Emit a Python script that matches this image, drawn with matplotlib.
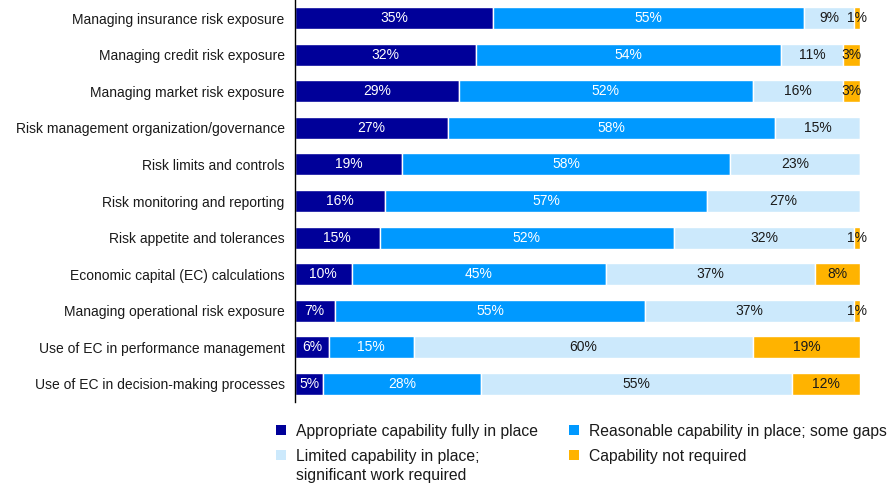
import matplotlib.pyplot as plt
from matplotlib.patches import Rectangle

plt.rcParams['font.family'] = ['Liberation Sans', 'DejaVu Sans']
plt.rcParams['font.size'] = 10

categories = [
    'Managing insurance risk exposure',
    'Managing credit risk exposure',
    'Managing market risk exposure',
    'Risk management organization/governance',
    'Risk limits and controls',
    'Risk monitoring and reporting',
    'Risk appetite and tolerances',
    'Economic capital (EC) calculations',
    'Managing operational risk exposure',
    'Use of EC in performance management',
    'Use of EC in decision-making processes',
]
fully = [35, 32, 29, 27, 19, 16, 15, 10, 7, 6, 5]
reasonable = [55, 54, 52, 58, 58, 57, 52, 45, 55, 15, 28]
limited = [9, 11, 16, 15, 23, 27, 32, 37, 37, 60, 55]
not_required = [1, 3, 3, 0, 0, 0, 1, 8, 1, 19, 12]

series = [fully, reasonable, limited, not_required]
names = ['Appropriate capability fully in place',
         'Reasonable capability in place; some gaps',
         'Limited capability in place;\nsignificant work required',
         'Capability not required']
colors = ['#000099', '#0099ff', '#cce9fc', '#ffb300']
text_colors = ['white', 'white', '#1a1a1a', '#1a1a1a']

W, H = 892, 484
fig = plt.figure(figsize=(W / 100, H / 100), dpi=100)
ax = fig.add_axes([295 / W, 82 / H, 565 / W, 402 / H])

y = list(range(len(categories)))
left = [0] * len(categories)
for vals, col, tc in zip(series, colors, text_colors):
    ax.barh(y, vals, left=left, height=0.6, color=col, edgecolor='white', linewidth=1)
    for i, v in enumerate(vals):
        if v > 0:
            ax.text(left[i] + v / 2, i, f'{v}%', ha='center', va='center',
                    color=tc, fontsize=10)
    left = [a + b for a, b in zip(left, vals)]

ax.set_ylim(len(categories) - 0.5, -0.5)
ax.set_xlim(0, 100)
ax.set_yticks(y)
ax.set_yticklabels(categories)
ax.tick_params(axis='y', length=0, pad=7.5, colors='#1a1a1a')
ax.set_xticks([])
for s in ['top', 'right', 'bottom']:
    ax.spines[s].set_visible(False)
ax.spines['left'].set_linewidth(1)

# legend drawn by hand: two columns, handle aligned with the first text line
spots = [(276, 430), (569, 430), (276, 455), (569, 455)]
for (hx, hy), k in zip(spots, range(4)):
    fig.patches.append(Rectangle((hx / W, 1 - (hy + 5) / H), 10 / W, 10 / H,
                                 facecolor=colors[k], edgecolor='none',
                                 transform=fig.transFigure))
    fig.text((hx + 20) / W, 1 - (hy - 6) / H, names[k], ha='left', va='top',
             fontsize=11.3, color='#1a1a1a', linespacing=1.3)

fig.savefig('out.png', dpi=100)
